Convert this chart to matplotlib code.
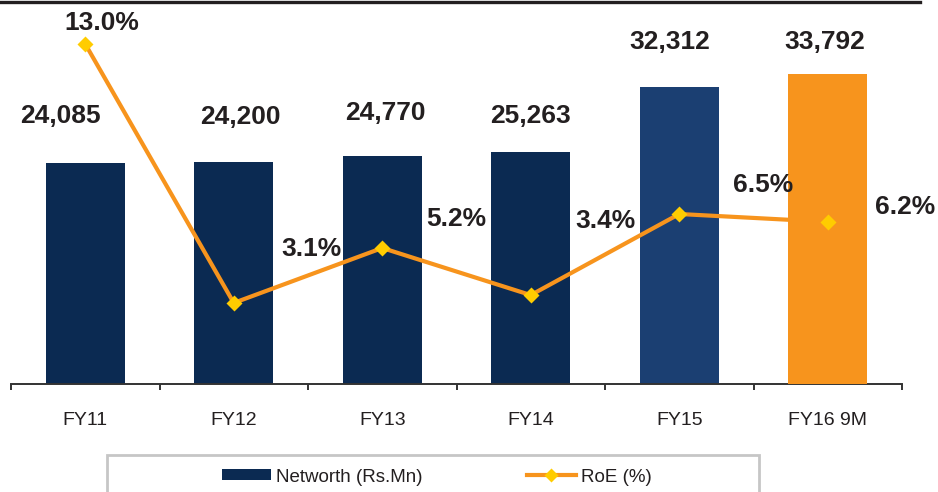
import matplotlib
matplotlib.use('Agg')
import matplotlib.pyplot as plt
from matplotlib.lines import Line2D
from matplotlib.patches import Patch, Rectangle

categories = ['FY11', 'FY12', 'FY13', 'FY14', 'FY15', 'FY16 9M']
networth = [24085, 24200, 24770, 25263, 32312, 33792]
roe = [13.0, 3.1, 5.2, 3.4, 6.5, 6.2]
networth_labels = ['24,085', '24,200', '24,770', '25,263', '32,312', '33,792']
roe_labels = ['13.0%', '3.1%', '5.2%', '3.4%', '6.5%', '6.2%']

NAVY = '#0b2a52'
BLUE = '#1b3f72'
ORANGE = '#f7941d'
YELLOW = '#ffcc00'
TEXT = '#231f20'
bar_colors = [NAVY] * 4 + [BLUE, ORANGE]

# label offsets (pixels) relative to the data point
nw_offsets = [(-25, 40), (7, 38), (3, 36), (0, 29), (-10, 38), (-3, 25)]
roe_offsets = [(17, 14), (78, 47), (74, 22), (75, 67), (84, 22), (77, 8)]

plt.rcParams['font.family'] = ['Liberation Sans', 'DejaVu Sans']

fig = plt.figure(figsize=(9.38, 4.92), dpi=100)
ax = fig.add_axes([11 / 938, 108 / 492, 891 / 938, 374 / 492])
ax2 = ax.twinx()

x = list(range(len(categories)))
bars = ax.bar(x, networth, width=0.53, color=bar_colors, zorder=1)
bars[-1].set_zorder(3)

ax.plot(x, roe, color=ORANGE, lw=3, transform=ax2.transData, zorder=2,
        solid_capstyle='butt')
ax.plot(x, roe, ls='none', marker='D', ms=8.5, mfc=YELLOW, mec='none',
        transform=ax2.transData, zorder=4)

ax.set_xlim(-0.5, 5.5)
ax.set_ylim(0, 40706)
ax2.set_ylim(0, 14.30)

for i, lbl in enumerate(networth_labels):
    dx, dy = nw_offsets[i]
    ax.annotate(lbl, xy=(x[i], networth[i]), xycoords='data',
                xytext=(dx, dy), textcoords='offset pixels',
                ha='center', va='baseline', fontsize=19, fontweight='bold',
                color=TEXT, annotation_clip=False, zorder=6)

for i, lbl in enumerate(roe_labels):
    dx, dy = roe_offsets[i]
    ax.annotate(lbl, xy=(x[i], roe[i]), xycoords=ax2.transData,
                xytext=(dx, dy), textcoords='offset pixels',
                ha='center', va='baseline', fontsize=19, fontweight='bold',
                color=TEXT, annotation_clip=False, zorder=6)

# axes styling
for a in (ax, ax2):
    for s in ('top', 'right', 'left'):
        a.spines[s].set_visible(False)
    a.set_yticks([])
ax2.spines['bottom'].set_visible(False)
ax.spines['bottom'].set_color('#333333')
ax.spines['bottom'].set_linewidth(1.4)

ax.set_xticks(x)
ax.set_xticklabels(categories)
ax.tick_params(axis='x', which='major', length=0, pad=20, labelsize=14,
               labelcolor=TEXT)
ax.set_xticks([i - 0.5 for i in range(len(categories) + 1)], minor=True)
ax.tick_params(axis='x', which='minor', length=4.3, width=1.4,
               color='#333333', direction='out')

# legend
handles = [Patch(facecolor=NAVY, edgecolor='none'),
           Line2D([], [], color=ORANGE, lw=3, marker='D', ms=7,
                  mfc=YELLOW, mec='none')]
fig.legend(handles, ['Networth (Rs.Mn)', 'RoE (%)'], loc='center',
           bbox_to_anchor=(437 / 938, 1 - 477 / 492), ncol=2, frameon=False,
           fontsize=13.5, handlelength=2.62, handleheight=0.51,
           handletextpad=0.26, columnspacing=5.55, labelcolor=TEXT)

fig.add_artist(Rectangle((107 / 938, -0.1), (759 - 107) / 938,
                         (1 - 455 / 492) + 0.1, transform=fig.transFigure,
                         fill=False, edgecolor='#c6c6c6', lw=2, clip_on=False))
fig.add_artist(Line2D([0, 920 / 938], [1 - 1.7 / 492] * 2, color=TEXT,
                      lw=2.4, transform=fig.transFigure))

fig.savefig('out.png', dpi=100)
